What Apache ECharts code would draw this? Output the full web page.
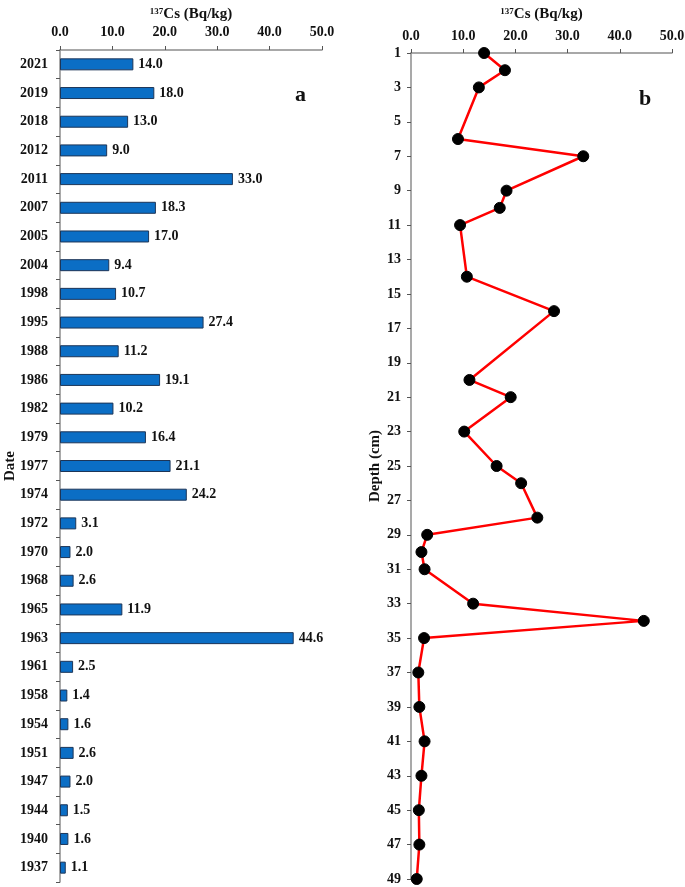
<!DOCTYPE html>
<html>
<head>
<meta charset="utf-8">
<script src="https://cdn.jsdelivr.net/npm/echarts@6/dist/echarts.min.js"></script>
<style>
html,body{margin:0;padding:0;background:#fff;}
#chart{width:685px;height:887px;}
</style>
</head>
<body>
<div id="chart"></div>
<script>
const dates = ['2021','2019','2018','2012','2011','2007','2005','2004','1998','1995','1988','1986','1982','1979','1977','1974','1972','1970','1968','1965','1963','1961','1958','1954','1951','1947','1944','1940','1937'];
const csValues = [14.0,18.0,13.0,9.0,33.0,18.3,17.0,9.4,10.7,27.4,11.2,19.1,10.2,16.4,21.1,24.2,3.1,2.0,2.6,11.9,44.6,2.5,1.4,1.6,2.6,2.0,1.5,1.6,1.1];
const depths = [1,2,3,6,7,9,10,11,14,16,20,21,23,25,26,28,29,30,31,33,34,35,37,39,41,43,45,47,49];
const xTicks = [0,10,20,30,40,50];

const FONT = '"Liberation Serif","Times New Roman",serif';
const axisGrey = '#8c8c8c';
const nameRich = {
  sup:{fontFamily:FONT,fontWeight:'bold',fontSize:9,color:'#111',verticalAlign:'top',padding:[0,0,6,0]},
  b:{fontFamily:FONT,fontWeight:'bold',fontSize:15,color:'#111'}
};
const labelStyle = {fontFamily:FONT,fontWeight:'bold',fontSize:14,color:'#111'};

const chart = echarts.init(document.getElementById('chart'));
chart.setOption({
  animation:false,
  backgroundColor:'#fff',
  grid:[
    {left:60,top:50,width:262,height:832,containLabel:false,outerBoundsMode:'none'},
    {left:411,top:53,width:261,height:826,containLabel:false,outerBoundsMode:'none'}
  ],
  xAxis:[
    {gridIndex:0,type:'value',position:'top',min:xTicks[0],max:xTicks[xTicks.length-1],interval:10,
     name:'{sup|137}{b|Cs (Bq/kg)}',nameLocation:'middle',nameGap:28,nameMoveOverlap:false,
     nameTextStyle:{rich:nameRich},
     axisLine:{show:true,lineStyle:{color:axisGrey,width:1.5}},
     axisTick:{show:true,inside:false,length:4,lineStyle:{color:'#555'}},
     axisLabel:Object.assign({margin:11,formatter:v=>v.toFixed(1)},labelStyle),
     splitLine:{show:false}},
    {gridIndex:1,type:'value',position:'top',min:xTicks[0],max:xTicks[xTicks.length-1],interval:10,
     name:'{sup|137}{b|Cs (Bq/kg)}',nameLocation:'middle',nameGap:31,nameMoveOverlap:false,
     nameTextStyle:{rich:nameRich},
     axisLine:{show:true,lineStyle:{color:axisGrey,width:1.5}},
     axisTick:{show:true,inside:false,length:4,lineStyle:{color:'#555'}},
     axisLabel:Object.assign({margin:10,formatter:v=>v.toFixed(1)},labelStyle),
     splitLine:{show:false}}
  ],
  yAxis:[
    {gridIndex:0,type:'category',data:dates,inverse:true,
     name:'Date',nameLocation:'middle',nameGap:42,nameRotate:90,nameMoveOverlap:false,
     nameTextStyle:{fontFamily:FONT,fontWeight:'bold',fontSize:15,color:'#111'},
     axisLine:{show:true,lineStyle:{color:axisGrey,width:1.5}},
     axisTick:{show:true,alignWithLabel:false,length:4,lineStyle:{color:'#555'}},
     axisLabel:Object.assign({margin:12},labelStyle)},
    {gridIndex:1,type:'value',inverse:true,min:1,max:49,interval:2,
     name:'Depth (cm)',nameLocation:'middle',nameGap:28,nameRotate:90,nameMoveOverlap:false,
     nameTextStyle:{fontFamily:FONT,fontWeight:'bold',fontSize:15,color:'#111'},
     axisLine:{show:true,lineStyle:{color:axisGrey,width:1.5}},
     axisTick:{show:true,length:4,lineStyle:{color:'#555'}},
     axisLabel:Object.assign({margin:10},labelStyle),
     splitLine:{show:false}}
  ],
  series:[
    {type:'bar',xAxisIndex:0,yAxisIndex:0,data:csValues,barWidth:12,
     itemStyle:{color:'#0b6ec5',borderColor:'#1d3557',borderWidth:1},
     label:Object.assign({show:true,position:'right',distance:5,formatter:p=>p.value.toFixed(1)},labelStyle)},
    {type:'line',xAxisIndex:1,yAxisIndex:1,
     data:csValues.map((v,i)=>[v,depths[i]]),
     symbol:'circle',symbolSize:11,
     lineStyle:{color:'#ff0000',width:2.5},
     itemStyle:{color:'#000',borderColor:'#000'},
     z:3}
  ],
  graphic:[
    {type:'text',left:295,top:84,style:{text:'a',fontFamily:FONT,fontWeight:'bold',fontSize:22,fill:'#111'}},
    {type:'text',left:639,top:88,style:{text:'b',fontFamily:FONT,fontWeight:'bold',fontSize:22,fill:'#111'}}
  ]
});
</script>
</body>
</html>
